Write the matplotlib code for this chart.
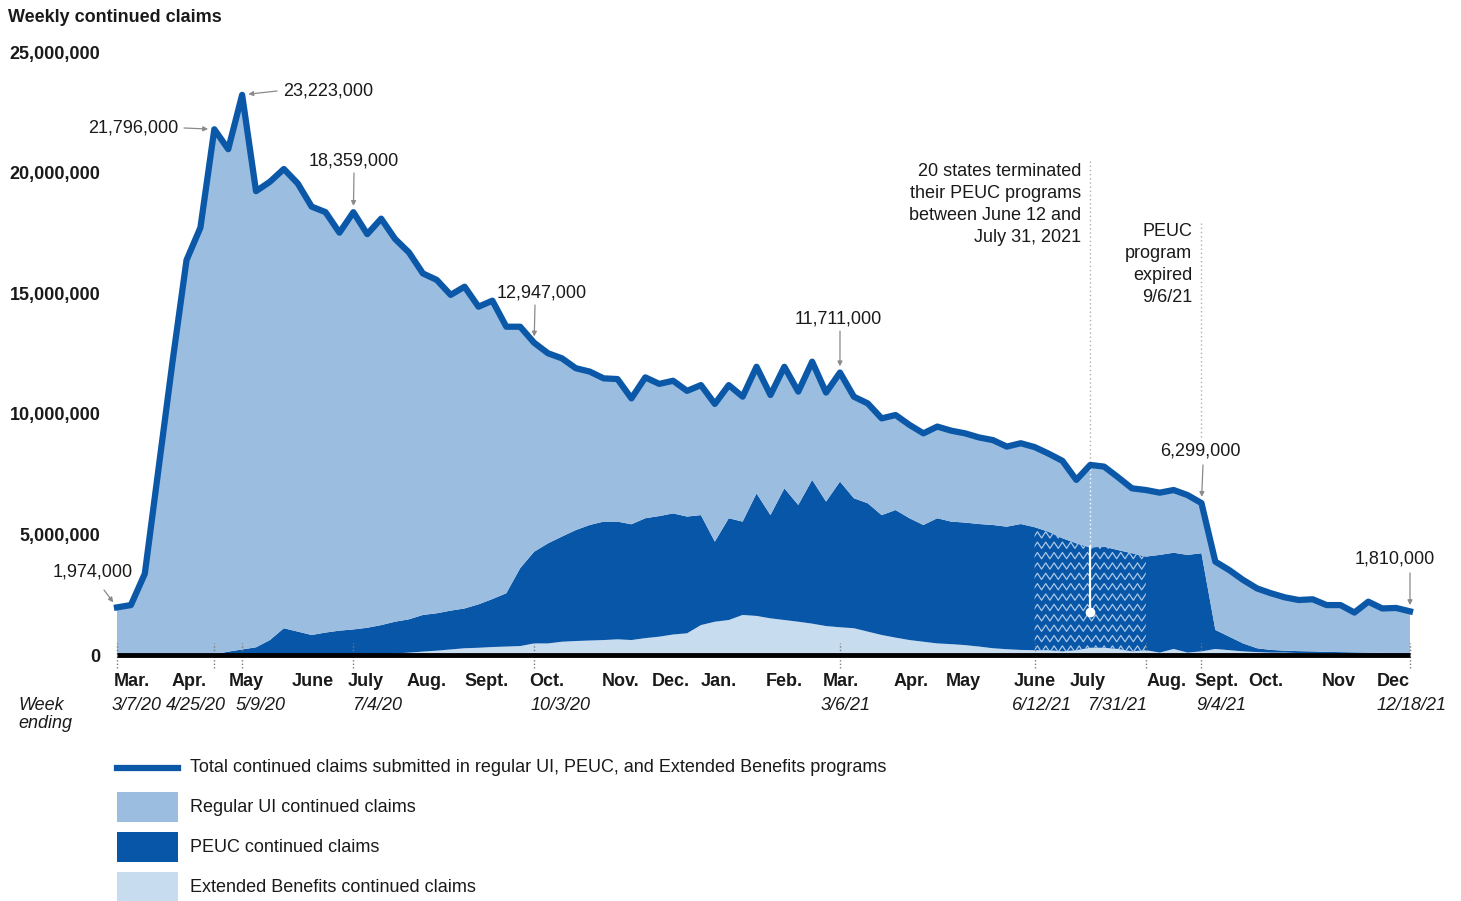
import numpy as np
import pandas as pd
import matplotlib
matplotlib.use("Agg")
import matplotlib.pyplot as plt
import matplotlib.transforms as mtransforms
from matplotlib.path import Path
from matplotlib.patches import PathPatch, Rectangle
from matplotlib.lines import Line2D

plt.rcParams['font.family'] = ['Liberation Sans', 'DejaVu Sans']

# weekly data, week ending 3/7/20 .. 12/18/21 (millions of claims)
week_ending = pd.date_range('2020-03-07', '2021-12-18', freq='7D')

total = [1.974, 2.07, 3.37, 7.78, 12.19, 16.37, 17.72, 21.796, 20.97, 23.223,
         19.23, 19.62, 20.15, 19.55, 18.59, 18.36, 17.51, 18.359, 17.45, 18.09,
         17.25, 16.69, 15.82, 15.55, 14.93, 15.27, 14.44, 14.69, 13.61, 13.61,
         12.947, 12.51, 12.30, 11.89, 11.75, 11.47, 11.44, 10.64, 11.51, 11.24,
         11.37, 10.95, 11.19, 10.41, 11.19, 10.71, 11.95, 10.78, 11.95, 10.92,
         12.16, 10.88, 11.711, 10.71, 10.43, 9.81, 9.95, 9.54, 9.19, 9.47,
         9.30, 9.19, 9.02, 8.91, 8.64, 8.78, 8.62, 8.35, 8.05, 7.26,
         7.88, 7.81, 7.37, 6.91, 6.84, 6.73, 6.84, 6.63, 6.299, 3.87,
         3.52, 3.11, 2.76, 2.56, 2.39, 2.28, 2.31, 2.07, 2.07, 1.76,
         2.21, 1.93, 1.95, 1.81]

peuc = [0, 0, 0, 0, 0, 0, 0, 0.02, 0.14, 0.23,
        0.32, 0.62, 1.11, 0.97, 0.83, 0.93, 1.01, 1.06, 1.13, 1.21,
        1.32, 1.38, 1.52, 1.55, 1.61, 1.65, 1.80, 1.99, 2.21, 3.23,
        3.80, 4.15, 4.36, 4.60, 4.79, 4.91, 4.88, 4.80, 4.97, 5.00,
        5.02, 4.84, 4.56, 3.32, 4.22, 3.87, 5.08, 4.28, 5.46, 4.84,
        5.96, 5.16, 6.04, 5.39, 5.32, 4.97, 5.29, 5.05, 4.84, 5.19,
        5.08, 5.08, 5.08, 5.11, 5.08, 5.22, 5.10, 4.91, 4.69, 4.43,
        4.16, 4.19, 4.10, 4.07, 3.88, 4.05, 3.99, 4.05, 4.07, 0.79,
        0.56, 0.33, 0.16, 0.11, 0.08, 0.08, 0.07, 0.06, 0.05, 0.05,
        0.04, 0.04, 0.03, 0.03]

eb = [0, 0, 0, 0, 0, 0, 0, 0, 0, 0,
      0, 0, 0, 0, 0, 0, 0, 0, 0, 0.03,
      0.06, 0.10, 0.14, 0.18, 0.23, 0.28, 0.30, 0.33, 0.35, 0.37,
      0.48, 0.48, 0.55, 0.58, 0.60, 0.62, 0.65, 0.62, 0.70, 0.76,
      0.85, 0.90, 1.24, 1.38, 1.45, 1.66, 1.62, 1.52, 1.45, 1.38,
      1.30, 1.20, 1.15, 1.11, 0.97, 0.83, 0.72, 0.62, 0.55, 0.48,
      0.45, 0.41, 0.35, 0.28, 0.24, 0.21, 0.20, 0.20, 0.15, 0.20,
      0.30, 0.30, 0.25, 0.15, 0.20, 0.10, 0.25, 0.10, 0.15, 0.25,
      0.20, 0.15, 0.12, 0.10, 0.10, 0.08, 0.08, 0.07, 0.07, 0.06,
      0.06, 0.05, 0.05, 0.05]

month_labels = ['Mar.', 'Apr.', 'May', 'June', 'July', 'Aug.', 'Sept.', 'Oct.',
                'Nov.', 'Dec.', 'Jan.', 'Feb.', 'Mar.', 'Apr.', 'May', 'June',
                'July', 'Aug.', 'Sept.', 'Oct.', 'Nov', 'Dec']
month_pos = [1.1, 5.2, 9.3, 14.1, 17.9, 22.3, 26.6, 30.9, 36.2, 39.8, 43.3, 48.0,
             52.1, 57.1, 60.9, 66.0, 69.8, 75.5, 79.1, 82.6, 87.9, 91.8]
date_labels = ['3/7/20', '4/25/20', '5/9/20', '7/4/20', '10/3/20', '3/6/21',
               '6/12/21', '7/31/21', '9/4/21', '12/18/21']
date_pos = [1.4, 5.7, 10.3, 18.7, 31.9, 52.4, 66.5, 71.9, 79.4, 93.1]
tick_weeks = [0, 7, 9, 17, 30, 52, 66, 74, 78, 93]
callout_weeks = [0, 7, 9, 17, 30, 52, 78, 93]
callout_labels = ['1,974,000', '21,796,000', '23,223,000', '18,359,000',
                  '12,947,000', '11,711,000', '6,299,000', '1,810,000']

total = np.array(total) * 1e6
peuc = np.array(peuc) * 1e6
eb = np.array(eb) * 1e6
regular = total - peuc - eb
x = np.arange(len(total))

reg_c = '#9bbde0'
peuc_c = '#0856a8'
eb_c = '#c8dcf0'
line_c = '#0b58a8'
txt_c = '#1a1a1a'
fs = 13

W, H = 1461, 901
def fx(p):
    return p / W
def fy(p):
    return 1 - p / H

fig = plt.figure(figsize=(W / 100, H / 100), dpi=100)
ax = fig.add_axes([fx(117), fy(655), fx(1410) - fx(117), fy(52) - fy(655)])
ax.set_xlim(0, 93)
ax.set_ylim(0, 25e6)
for s in ax.spines.values():
    s.set_visible(False)

ax.stackplot(x, eb, peuc, regular, colors=[eb_c, peuc_c, reg_c], linewidth=0)

# zigzag pattern over PEUC band for states that ended PEUC early
lo = eb[66:75]
hi = (eb + peuc)[66:75]
verts = list(zip(x[66:75], hi)) + list(zip(x[66:75][::-1], lo[::-1]))
verts.append(verts[0])
clip = PathPatch(Path(verts), transform=ax.transData, fc='none', ec='none')
ax.add_patch(clip)
zx = np.arange(65.9, 74.1, 0.3)
zig = np.where(np.arange(len(zx)) % 2 == 0, -0.13e6, 0.13e6)
for y0 in np.arange(0.25e6, 6.2e6, 0.43e6):
    ln, = ax.plot(zx, y0 + zig, color='#a9c7e8', lw=0.9, zorder=2)
    ln.set_clip_path(clip)

ax.vlines(tick_weeks, -0.55e6, 0.5e6, colors='#7a7a7a', linestyles=(0, (1, 1.5)),
          lw=1, clip_on=False, zorder=4)
ax.plot([0, 93], [0, 0], color='black', lw=3.5, solid_capstyle='butt',
        clip_on=False, zorder=5)
ax.plot(x, total, color=line_c, lw=4.5, clip_on=False, zorder=7)

# y axis
yt = np.arange(0, 25e6 + 1, 5e6)
ax.set_yticks(yt)
ax.set_yticklabels([f'{int(v):,}' for v in yt], fontweight='bold', fontsize=fs, color=txt_c)
ax.set_xticks([])
ax.tick_params(axis='y', length=0, pad=12)

fig.text(fx(8), fy(18), 'Weekly continued claims', fontweight='bold', fontsize=fs,
         ha='left', va='center', color=txt_c)

# x labels
bt = mtransforms.blended_transform_factory(ax.transData, fig.transFigure)
for p, lab in zip(month_pos, month_labels):
    ax.text(p, fy(682), lab, transform=bt, ha='center', va='center',
            fontweight='bold', fontsize=fs, color=txt_c)
for p, lab in zip(date_pos, date_labels):
    ax.text(p, fy(706), lab, transform=bt, ha='center', va='center',
            style='italic', fontsize=fs, color=txt_c)
fig.text(fx(18), fy(705), 'Week', style='italic', fontsize=fs, ha='left', va='center', color=txt_c)
fig.text(fx(18), fy(723), 'ending', style='italic', fontsize=fs, ha='left', va='center', color=txt_c)

# value callouts: text position and arrow tail in pixels
text_xy = [(93, 572, 'center'), (178, 128, 'right'), (283, 91, 'left'), (354, 161, 'center'),
           (542, 293, 'center'), (838, 319, 'center'), (1200, 451, 'center'), (1395, 559, 'center')]
tails = [(104, 590), (184, 128), (277, 91), (354, 173), (535, 305), (840, 331), (1203, 465), (1410, 573)]
for i, lab, (tx, ty, ha), (ax_, ay_) in zip(callout_weeks, callout_labels, text_xy, tails):
    fig.text(fx(tx), fy(ty), lab, ha=ha, va='center', fontsize=fs, color=txt_c)
    ax.annotate('', xy=(i, total[i]), xytext=(ax_, H - ay_), textcoords='figure pixels',
                arrowprops=dict(arrowstyle='-|>', color='#8a8a8a', lw=0.9,
                                mutation_scale=7, shrinkA=0, shrinkB=4.5),
                annotation_clip=False, zorder=8)

# program notes
dots = (0, (1, 2))
ax.plot([70, 70], [20.5e6, total[70]], color='#b0b0b0', lw=1, ls=dots, zorder=6)
ax.plot([70, 70], [total[70], eb[70] + peuc[70]], color='white', lw=1, ls=dots, zorder=6)
ax.plot([70, 70], [eb[70] + peuc[70], 1.78e6], color='white', lw=1.6, zorder=6)
ax.plot([70], [1.78e6], 'o', color='white', ms=6, zorder=6)
for k, line in enumerate(['20 states terminated', 'their PEUC programs',
                          'between June 12 and', 'July 31, 2021']):
    fig.text(fx(1081), fy(172 + 22 * k), line, ha='right', va='center', fontsize=fs, color=txt_c)

ax.plot([78, 78], [17.9e6, 8.9e6], color='#b0b0b0', lw=1, ls=dots, zorder=6)
for k, line in enumerate(['PEUC', 'program', 'expired', '9/6/21']):
    fig.text(fx(1192), fy(232 + 22 * k), line, ha='right', va='center', fontsize=fs, color=txt_c)

# legend
fig.add_artist(Line2D([fx(117), fx(178)], [fy(768), fy(768)], color=line_c, lw=4.5,
                      transform=fig.transFigure))
for top, c in [(792, reg_c), (832, peuc_c), (872, eb_c)]:
    fig.add_artist(Rectangle((fx(117), fy(top + 30)), fx(178) - fx(117), fy(top) - fy(top + 30),
                             transform=fig.transFigure, color=c, lw=0))
legend_text = ['Total continued claims submitted in regular UI, PEUC, and Extended Benefits programs',
               'Regular UI continued claims', 'PEUC continued claims',
               'Extended Benefits continued claims']
for yy, t in zip([768, 807, 848, 888], legend_text):
    fig.text(fx(190), fy(yy), t, ha='left', va='center', fontsize=fs, color=txt_c)

fig.savefig('out.png', dpi=100)
